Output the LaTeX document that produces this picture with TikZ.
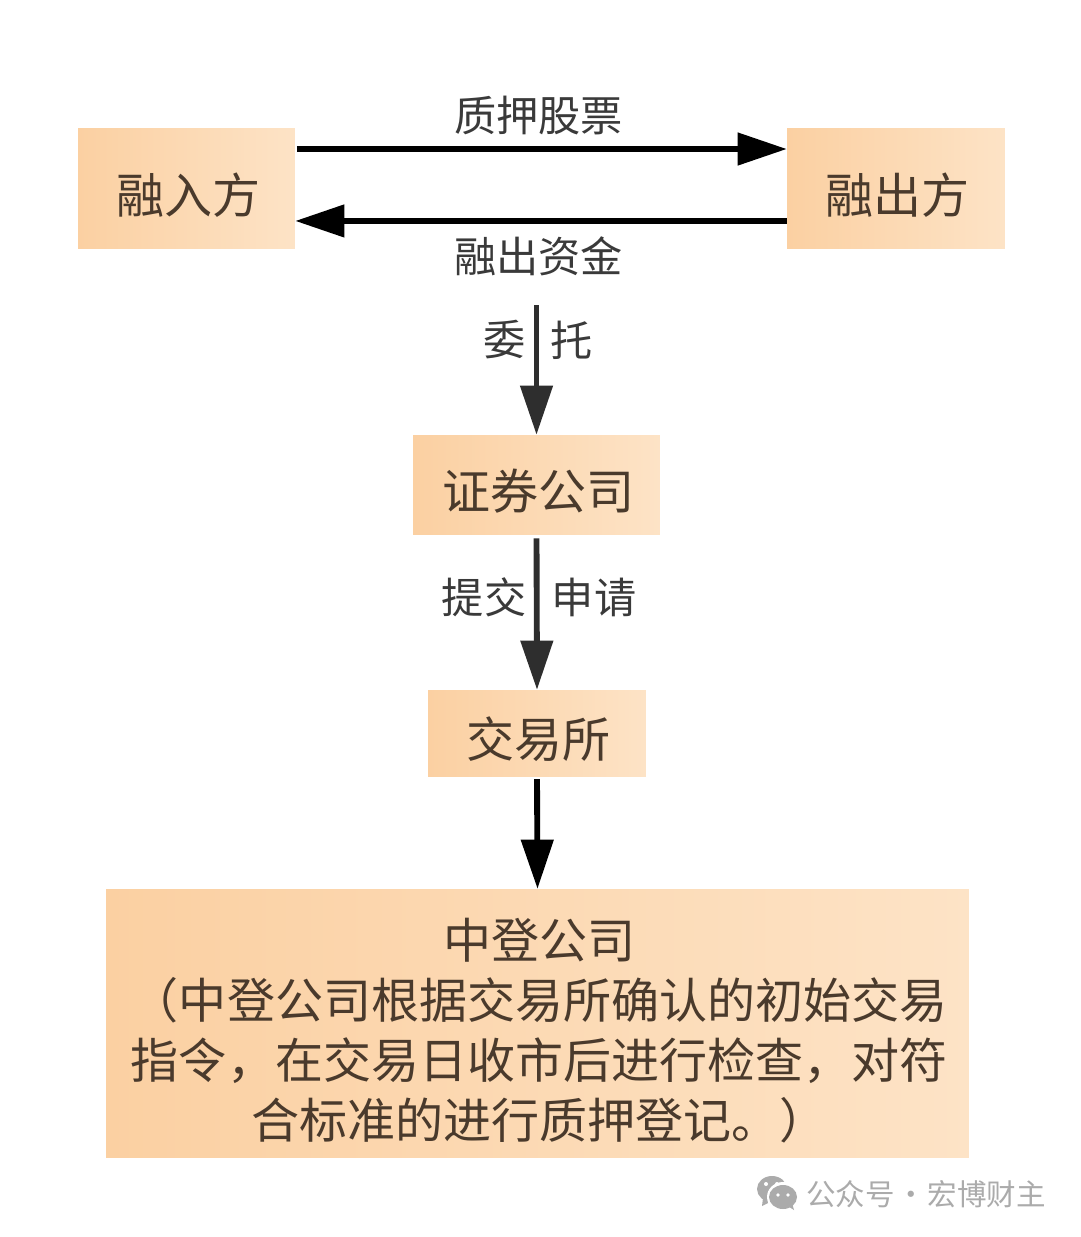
\documentclass[tikz,border=0pt]{standalone}
\usepackage{fontspec}
\usepackage{xcolor}
\setmainfont{Noto Sans CJK SC}
\usetikzlibrary{arrows.meta,positioning}
\definecolor{boxleft}{HTML}{FBD0A2}
\definecolor{boxright}{HTML}{FDE3C6}
\definecolor{boxtext}{HTML}{4A3A2C}
\definecolor{labeltext}{HTML}{3A3A3A}
\definecolor{marktext}{HTML}{ABABAB}
\newcommand{\intext}[2][-5.3pt]{\raisebox{#1}[\height][\depth]{\hspace*{3pt}#2}}
\tikzset{box/.style={rectangle,left color=boxleft,right color=boxright,text=boxtext,inner sep=0pt,font=\fontsize{41}{51.2}\selectfont},
lab/.style={text=labeltext,inner sep=0pt,font=\fontsize{36}{40}\selectfont},
blackline/.style={draw=black,line width=5pt,-{Triangle[length=42pt,width=27pt]}},
greyline/.style={draw=black!82,line width=5pt,-{Triangle[length=42pt,width=27pt]}}}

\begin{document}
\begin{tikzpicture}[x=0.03cm,y=-0.03cm]
        \useasboundingbox[fill=white] (0,0) rectangle (1080,1237);

        \node[box,minimum width=185.2pt,minimum height=101.6pt] (rzr) at (186.5,188.5) {\intext{融入方}};
        \node[box,minimum width=186pt,minimum height=101.6pt] (rcf) at (896,188.5) {\intext{融出方}};
        \node[box,minimum width=210.8pt,minimum height=84.5pt] (zq) at (536.5,484.5) {\intext{证券公司}};
        \node[box,minimum width=186pt,minimum height=73.4pt] (jys) at (537,733) {\intext{交易所}};
        \node[box,minimum width=736.5pt,minimum height=229.5pt] (zd) at (537.5,1023.5) {\intext[-11.3pt]{\begin{tabular}{@{}c@{}}中登公司\\（中登公司根据交易所确认的初始交易\\指令，在交易日收市后进行检查，对符\\合标准的进行质押登记。）\end{tabular}}};
        \coordinate (top) at (536.5,305);

        \draw [blackline,shorten <=1.5pt] ([yshift=33.7pt]rzr.east) -- node[lab,above=9.5pt,pos=0.495] (zyg) {质押股票} ([yshift=33.7pt]rcf.west);
        \draw [blackline] ([yshift=-27.7pt]rcf.west) -- node[lab,below=11pt,pos=0.505] (rcz) {融出资金} ([yshift=-27.7pt]rzr.east);
        \draw [greyline] (top) -- (zq.north);
        \draw [greyline,shorten <=3.5pt] (zq.south) -- (jys.north);
        \draw [blackline,shorten <=2.5pt] (jys.south) -- (zd.north);

        \node[lab] (wei) at (505,340) {委};
        \node[lab] (tuo) at (572,340) {托};
        \node[lab] (tj) at (484,597) {提交};
        \node[lab] (sq) at (594,597) {申请};

        \fill[marktext] (772,1189) circle [x radius=15,y radius=13];
        \fill[marktext] (763,1198) -- (762,1206) -- (772,1201) -- cycle;
        \fill[white] (783,1197) circle [x radius=16,y radius=15];
        \fill[marktext] (783,1197) circle [x radius=14,y radius=12];
        \fill[marktext] (786,1205) -- (794,1210) -- (792,1203) -- cycle;
        \foreach \px/\py in {766/1184,777/1184}
            \fill[white] (\px,\py) circle [radius=2];
        \foreach \px/\py in {778/1195,788/1195}
            \fill[white] (\px,\py) circle [radius=1.8];
        \node[text=marktext,inner sep=0pt,font=\fontsize{25.2}{28}\selectfont] (mark) at (926,1194) {公众号\hspace{1.5pt}·\hspace{1.5pt}宏博财主};
    \end{tikzpicture}
\end{document}
